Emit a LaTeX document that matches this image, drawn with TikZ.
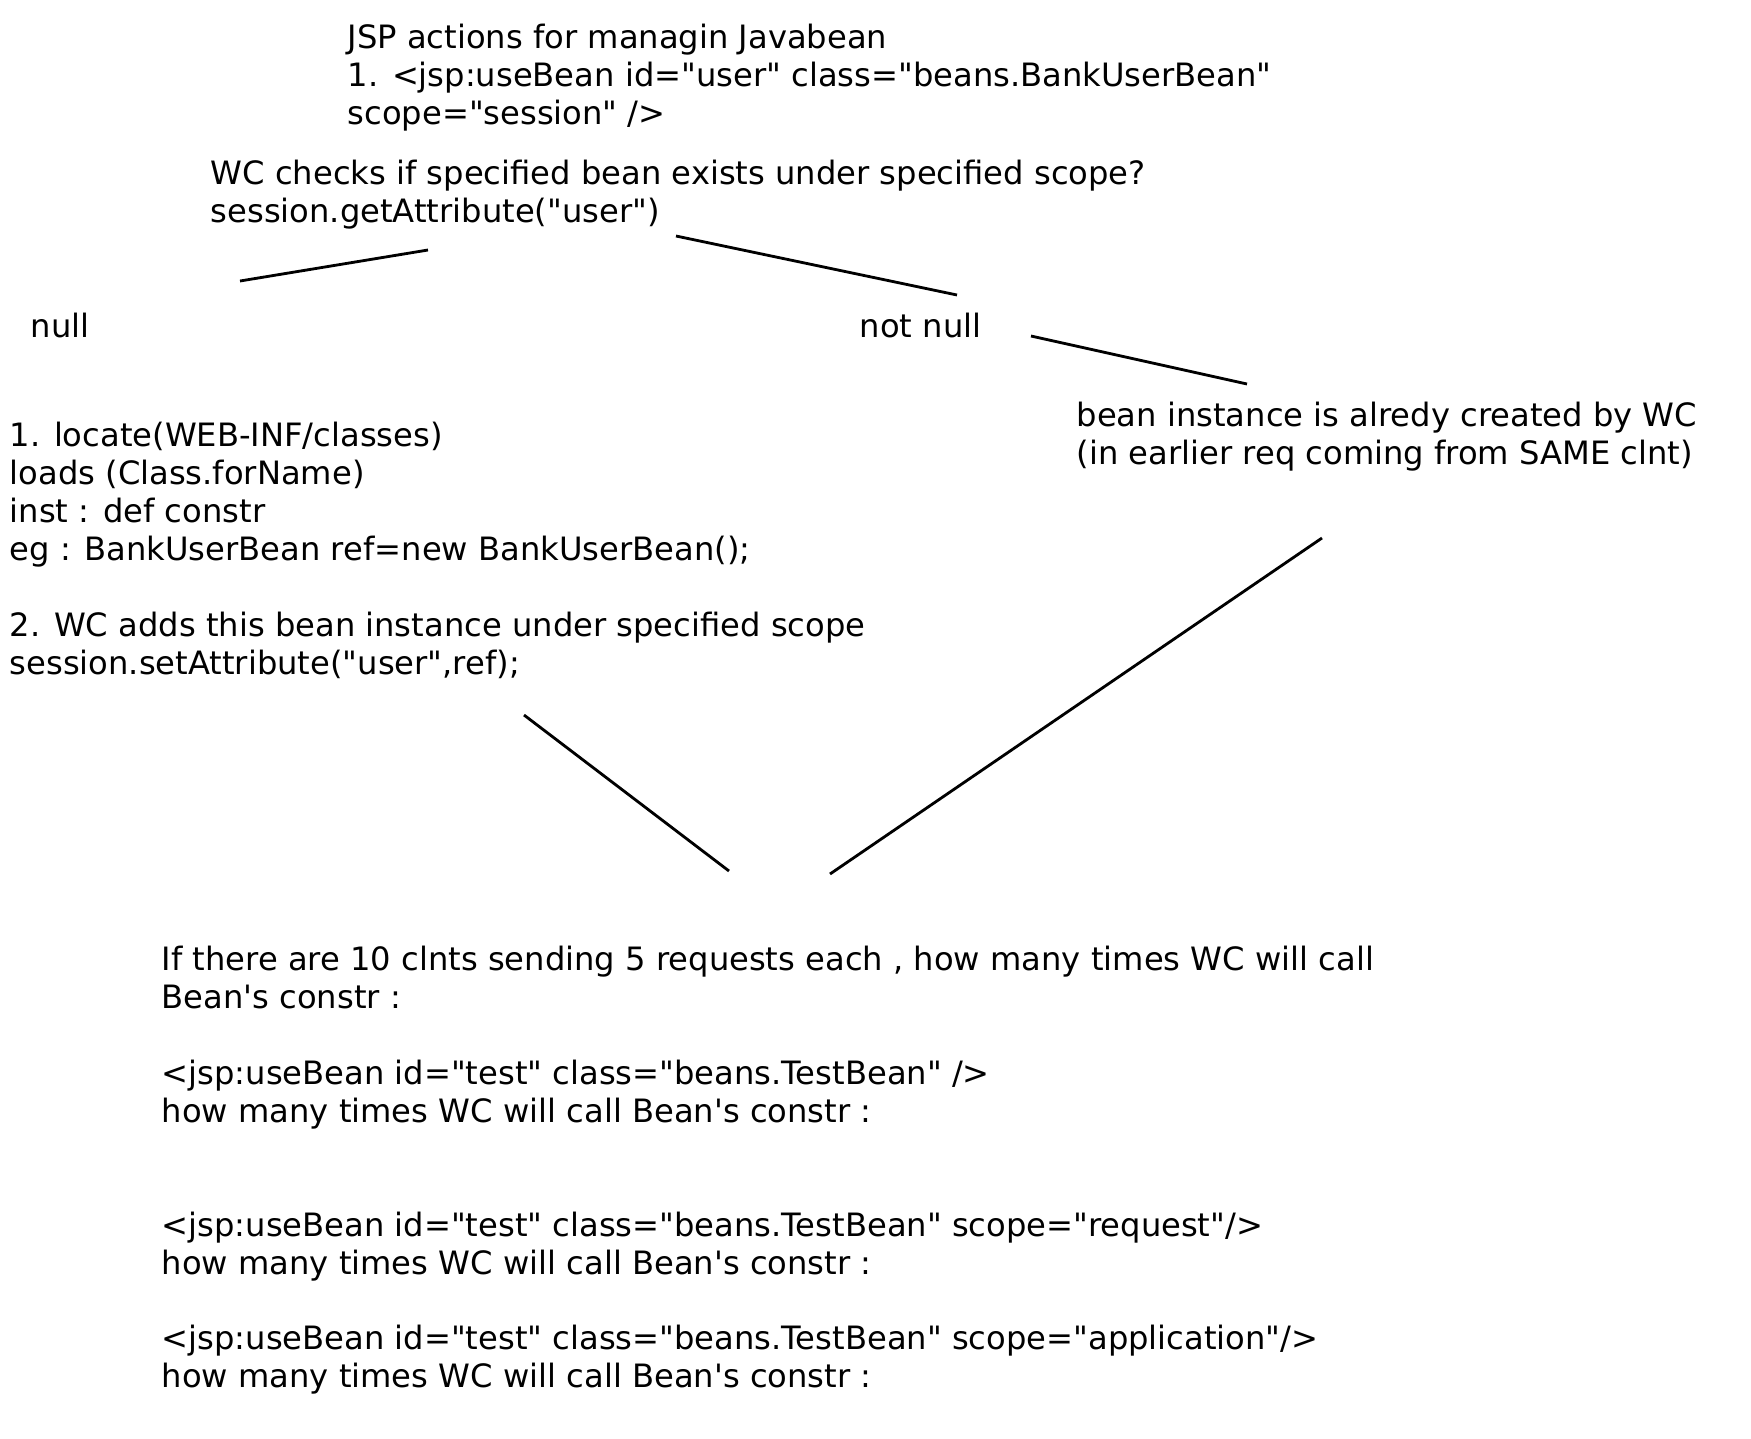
\documentclass[tikz,border=0pt]{standalone}
\usepackage{fontspec}
\newfontfamily\notefont{DejaVu Sans}
\begin{document}
\begin{tikzpicture}
[x=0.01cm,y=-0.01cm,
  textdecorate/.style={anchor=north west,inner sep=0pt,align=left,font=\fontsize{9.15}{10.8}\notefont},%
  linedecorate/.style={-,line width=0.8pt}]
\useasboundingbox (0,0) rectangle (1751,1439);
%% texts
\node (title) at (347,23) [textdecorate] {JSP actions for managin Javabean\\
1. <jsp:useBean id="user" class="beans.BankUserBean"\\
scope="session" />};
\node (check) at (210,159) [textdecorate] {WC checks if specified bean exists under specified scope?\\
session.getAttribute("user")};
\node (null) at (30,312) [textdecorate] {null};
\node (notnull) at (859,312) [textdecorate] {not null};
\node (exists) at (1076,401) [textdecorate] {bean instance is alredy created by WC\\
(in earlier req coming from SAME clnt)};
\node (create) at (9,421) [textdecorate] {1. locate(WEB-INF/classes)\\
loads (Class.forName)\\
inst : def constr\\
eg : BankUserBean ref=new BankUserBean();\\
\\
2. WC adds this bean instance under specified scope\\
session.setAttribute("user",ref);};
\node (quiz) at (161,945) [textdecorate] {If there are 10 clnts sending 5 requests each , how many times WC will call\\
Bean's constr :\\
\\
<jsp:useBean id="test" class="beans.TestBean" />\\
how many times WC will call Bean's constr :\\
\\
\\
<jsp:useBean id="test" class="beans.TestBean" scope="request"/>\\
how many times WC will call Bean's constr :\\
\\
<jsp:useBean id="test" class="beans.TestBean" scope="application"/>\\
how many times WC will call Bean's constr :};
%% line ends
\foreach \cname/\x/\y in {tonulla/240/281, tonullb/428/250,
  tonotnulla/676/236, tonotnullb/957/295,
  toexistsa/1031/336, toexistsb/1247/384,
  fromcreatea/524/715, fromcreateb/729/871,
  fromexistsa/1322/538, fromexistsb/830/874} {
  \coordinate (\cname) at (\x,\y);
}
%% lines
\path
\foreach \startnode/\endnode in {tonulla/tonullb, tonotnulla/tonotnullb,
  toexistsa/toexistsb, fromcreatea/fromcreateb, fromexistsa/fromexistsb} {
  (\startnode) edge[linedecorate] (\endnode)
};
\end{tikzpicture}
\end{document}
